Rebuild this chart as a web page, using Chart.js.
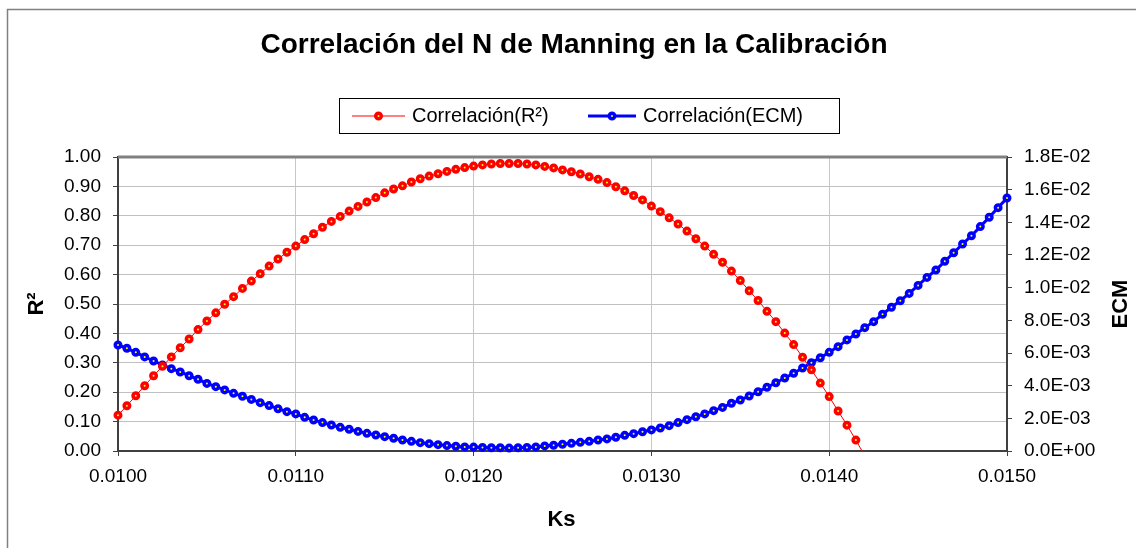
<!DOCTYPE html>
<html>
<head>
<meta charset="utf-8">
<script src="https://cdn.jsdelivr.net/npm/chart.js@4/dist/chart.umd.min.js"></script>
<style>
  html, body { margin: 0; padding: 0; background: #ffffff; }
  #wrap { position: relative; width: 1136px; height: 548px; overflow: hidden; }
  canvas { display: block; }
</style>
</head>
<body>
<div id="wrap"><canvas id="c" width="1136" height="548"></canvas></div>
<script>
// Ks values (Manning roughness) tested in the calibration
const ks = [
  0.01000, 0.01005, 0.01010, 0.01015, 0.01020, 0.01025, 0.01030, 0.01035, 0.01040, 0.01045,
  0.01050, 0.01055, 0.01060, 0.01065, 0.01070, 0.01075, 0.01080, 0.01085, 0.01090, 0.01095,
  0.01100, 0.01105, 0.01110, 0.01115, 0.01120, 0.01125, 0.01130, 0.01135, 0.01140, 0.01145,
  0.01150, 0.01155, 0.01160, 0.01165, 0.01170, 0.01175, 0.01180, 0.01185, 0.01190, 0.01195,
  0.01200, 0.01205, 0.01210, 0.01215, 0.01220, 0.01225, 0.01230, 0.01235, 0.01240, 0.01245,
  0.01250, 0.01255, 0.01260, 0.01265, 0.01270, 0.01275, 0.01280, 0.01285, 0.01290, 0.01295,
  0.01300, 0.01305, 0.01310, 0.01315, 0.01320, 0.01325, 0.01330, 0.01335, 0.01340, 0.01345,
  0.01350, 0.01355, 0.01360, 0.01365, 0.01370, 0.01375, 0.01380, 0.01385, 0.01390, 0.01395,
  0.01400, 0.01405, 0.01410, 0.01415, 0.01420, 0.01425, 0.01430, 0.01435, 0.01440, 0.01445,
  0.01450, 0.01455, 0.01460, 0.01465, 0.01470, 0.01475, 0.01480, 0.01485, 0.01490, 0.01495,
  0.01500
];

// Coefficient of determination for each Ks
const r2 = [
  0.122, 0.154, 0.188, 0.222, 0.256, 0.288, 0.320, 0.351, 0.381, 0.413,
  0.442, 0.470, 0.499, 0.525, 0.553, 0.578, 0.603, 0.629, 0.653, 0.676,
  0.697, 0.719, 0.739, 0.761, 0.781, 0.798, 0.816, 0.832, 0.847, 0.862,
  0.878, 0.891, 0.902, 0.915, 0.926, 0.935, 0.943, 0.951, 0.958, 0.964,
  0.969, 0.973, 0.976, 0.978, 0.978, 0.978, 0.976, 0.973, 0.968, 0.963,
  0.956, 0.950, 0.942, 0.933, 0.924, 0.913, 0.899, 0.885, 0.869, 0.854,
  0.833, 0.814, 0.793, 0.772, 0.748, 0.722, 0.697, 0.669, 0.642, 0.612,
  0.580, 0.545, 0.512, 0.475, 0.440, 0.401, 0.362, 0.319, 0.276, 0.231,
  0.185, 0.136, 0.088, 0.037, -0.016
];

// Mean squared error (ECM) for each Ks
const ecm = [
  0.00649, 0.00629, 0.00604, 0.00576, 0.00551, 0.00527, 0.00504, 0.00484, 0.00461, 0.00439,
  0.00414, 0.00394, 0.00374, 0.00353, 0.00335, 0.00316, 0.00296, 0.00278, 0.00259, 0.00241,
  0.00227, 0.00206, 0.00190, 0.00174, 0.00159, 0.00145, 0.00133, 0.00120, 0.00108, 0.00098,
  0.00088, 0.00078, 0.00067, 0.00059, 0.00051, 0.00045, 0.00039, 0.00033, 0.00029, 0.00025,
  0.00024, 0.00022, 0.00020, 0.00020, 0.00018, 0.00020, 0.00022, 0.00025, 0.00031, 0.00035,
  0.00041, 0.00047, 0.00053, 0.00059, 0.00067, 0.00074, 0.00084, 0.00096, 0.00106, 0.00118,
  0.00129, 0.00141, 0.00155, 0.00174, 0.00192, 0.00210, 0.00227, 0.00247, 0.00267, 0.00292,
  0.00312, 0.00337, 0.00363, 0.00390, 0.00418, 0.00447, 0.00476, 0.00508, 0.00541, 0.00571,
  0.00604, 0.00639, 0.00680, 0.00716, 0.00755, 0.00792, 0.00837, 0.00880, 0.00920, 0.00965,
  0.01014, 0.01063, 0.01108, 0.01161, 0.01214, 0.01267, 0.01318, 0.01374, 0.01431, 0.01490,
  0.01549
];

const seriesNames = ['Correlación(R²)', 'Correlación(ECM)'];
const chartTitle = 'Correlación del N de Manning en la Calibración';
const xTitle = 'Ks';
const yTitle = 'R²';
const y2Title = 'ECM';

const FONT = '"Liberation Sans", Arial, sans-serif';

function sci(v) {
  const [m, e] = Number(v).toExponential(1).split('e');
  const sign = e[0] === '-' ? '-' : '+';
  const digits = e.replace(/[+-]/, '').padStart(2, '0');
  return m + 'E' + sign + digits;
}

// Frame, chart title, custom legend and axis titles
const decorations = {
  id: 'decorations',
  beforeDraw(chart) {
    const ctx = chart.ctx;
    ctx.save();
    ctx.fillStyle = '#ffffff';
    ctx.fillRect(0, 0, chart.width, chart.height);
    ctx.strokeStyle = '#808080';
    ctx.lineWidth = 1.5;
    ctx.strokeRect(7.5, 9.5, 1200, 700);
    ctx.restore();
  },
  beforeDatasetsDraw(chart) {
    const {ctx, chartArea: a} = chart;
    ctx.save();
    ctx.strokeStyle = '#808080';
    ctx.lineWidth = 3;
    ctx.beginPath();
    ctx.moveTo(a.left, a.top);
    ctx.lineTo(a.right, a.top);
    ctx.stroke();
    ctx.restore();
  },
  afterDraw(chart) {
    const {ctx, chartArea: a} = chart;
    ctx.save();
    ctx.fillStyle = '#000000';
    ctx.textBaseline = 'middle';

    // title
    ctx.font = 'bold 28px ' + FONT;
    ctx.textAlign = 'center';
    ctx.fillText(chartTitle, 574, 45);

    // legend box
    const lx = 339, ly = 98, lw = 500, lh = 35;
    ctx.strokeStyle = '#000000';
    ctx.lineWidth = 1;
    ctx.strokeRect(lx + 0.5, ly + 0.5, lw, lh);
    const cy = ly + lh / 2 + 0.5;
    const items = [
      {ds: chart.data.datasets[0], x0: 352, x1: 405, tx: 412},
      {ds: chart.data.datasets[1], x0: 588, x1: 636, tx: 643}
    ];
    ctx.font = '20px ' + FONT;
    ctx.textAlign = 'left';
    items.forEach(it => {
      const ds = it.ds;
      ctx.strokeStyle = ds.borderColor;
      ctx.lineWidth = ds.borderWidth;
      ctx.beginPath();
      ctx.moveTo(it.x0, cy);
      ctx.lineTo(it.x1, cy);
      ctx.stroke();
      const mx = (it.x0 + it.x1) / 2;
      ctx.beginPath();
      ctx.arc(mx, cy, ds.pointRadius, 0, Math.PI * 2);
      ctx.fillStyle = ds.pointBackgroundColor;
      ctx.fill();
      ctx.strokeStyle = ds.pointBorderColor;
      ctx.lineWidth = ds.pointBorderWidth;
      ctx.stroke();
      ctx.fillStyle = '#000000';
      ctx.fillText(ds.label, it.tx, cy);
    });

    // axis titles
    ctx.font = 'bold 22px ' + FONT;
    ctx.textAlign = 'center';
    ctx.fillText(xTitle, (a.left + a.right) / 2 - 1, 520);
    const midY = (a.top + a.bottom) / 2;
    ctx.save();
    ctx.translate(37, midY);
    ctx.rotate(-Math.PI / 2);
    ctx.fillText(yTitle, 0, 0);
    ctx.restore();
    ctx.save();
    ctx.translate(1121, midY);
    ctx.rotate(-Math.PI / 2);
    ctx.fillText(y2Title, 0, 0);
    ctx.restore();
    ctx.restore();
  }
};

const tickFont = {family: FONT, size: 19};

new Chart(document.getElementById('c'), {
  type: 'line',
  data: {
    datasets: [
      {
        label: seriesNames[0],
        data: r2.map((v, i) => ({x: ks[i], y: v})),
        yAxisID: 'y',
        borderColor: '#ff0000',
        borderWidth: 1,
        pointRadius: 2.75,
        pointBorderWidth: 3.5,
        pointBorderColor: '#ff0000',
        pointBackgroundColor: '#ffff00',
        pointHoverRadius: 2.75,
        tension: 0,
        clip: {left: 8, right: 8, top: 8, bottom: 1}
      },
      {
        label: seriesNames[1],
        data: ecm.map((v, i) => ({x: ks[i], y: v})),
        yAxisID: 'y2',
        borderColor: '#0000ff',
        borderWidth: 3,
        pointRadius: 2.75,
        pointBorderWidth: 3.5,
        pointBorderColor: '#0000ff',
        pointBackgroundColor: '#ffff00',
        pointHoverRadius: 2.75,
        tension: 0,
        clip: 8
      }
    ]
  },
  options: {
    responsive: false,
    animation: false,
    events: [],
    layout: {padding: {top: 157, left: 0, right: 0, bottom: 0}},
    plugins: {
      legend: {display: false},
      title: {display: false},
      tooltip: {enabled: false}
    },
    scales: {
      x: {
        type: 'linear',
        position: 'bottom',
        min: 0.01,
        max: 0.015,
        ticks: {
          stepSize: 0.001,
          callback: v => Number(v).toFixed(4),
          font: tickFont,
          color: '#000000',
          padding: 9,
          maxRotation: 0,
          autoSkip: false
        },
        grid: {color: '#c8c8c8', lineWidth: 1, tickLength: 5, tickColor: '#404040', tickWidth: 1},
        border: {display: true, color: '#404040', width: 2},
        afterFit: s => { s.height = 97; }
      },
      y: {
        position: 'left',
        min: 0,
        max: 1,
        ticks: {
          stepSize: 0.1,
          callback: v => Number(v).toFixed(2),
          font: tickFont,
          color: '#000000',
          padding: 12
        },
        grid: {color: '#c0c0c0', lineWidth: 1, tickLength: 5, tickColor: '#404040', tickWidth: 1},
        border: {display: true, color: '#404040', width: 2},
        afterFit: s => { s.width = 118; }
      },
      y2: {
        position: 'right',
        min: 0,
        max: 0.018,
        ticks: {
          stepSize: 0.002,
          callback: v => sci(v),
          font: tickFont,
          color: '#000000',
          padding: 12
        },
        grid: {drawOnChartArea: false, tickLength: 5, tickColor: '#404040', tickWidth: 1},
        border: {display: true, color: '#404040', width: 2},
        afterFit: s => { s.width = 129; }
      }
    }
  },
  plugins: [decorations]
});
</script>
</body>
</html>
